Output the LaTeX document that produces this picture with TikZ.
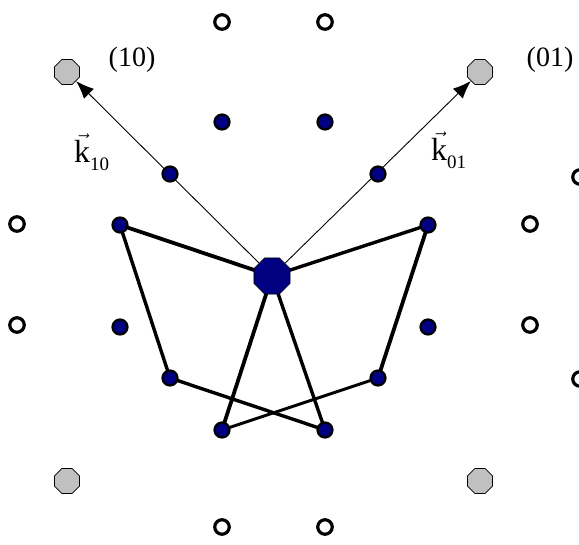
\documentclass[tikz,border=0pt]{standalone}
\usepackage{amsmath}
\usepackage{fontspec}
\setmainfont{Liberation Serif}
\usetikzlibrary{shapes.geometric,arrows.meta,backgrounds}
\definecolor{navy}{RGB}{0,0,128}
\definecolor{lgray}{RGB}{192,192,192}
\tikzset{
  openpt/.style={circle,draw=black,line width=3.2pt,fill=white,minimum size=14.5pt,inner sep=0pt},
  bluept/.style={circle,draw=black,line width=2.2pt,fill=navy,minimum size=15pt,inner sep=0pt},
  graypt/.style={regular polygon,regular polygon sides=8,draw=black,line width=0.8pt,fill=lgray,minimum size=27pt,inner sep=0pt},
  centerpt/.style={regular polygon,regular polygon sides=8,draw=black,line width=0.6pt,fill=navy,minimum size=39pt,inner sep=0pt},
  bond/.style={line width=3.4pt,draw=black},
  kvec/.style={line width=0.9pt,draw=black,-{Latex[length=18pt,width=14pt]}},
  lbl/.style={font=\fontsize{28}{30}\selectfont,inner sep=0pt},
  klbl/.style={font=\fontsize{32}{34}\selectfont,inner sep=0pt,anchor=base west}
}
\newcommand\kvecsub[1]{$\vec{\text{k}}_{\raisebox{-4pt}{\fontsize{19}{19}\selectfont #1}}$}
\begin{document}
\begin{tikzpicture}[x=1pt,y=-1pt]
\useasboundingbox (0,0) rectangle (579,545);
\clip (0,0) rectangle (579,545);
% open points
\node[openpt] (o1) at (222,22) {};
\node[openpt] (o2) at (325,22) {};
\node[openpt] (o3) at (17,224) {};
\node[openpt] (o4) at (530,224) {};
\node[openpt] (o5) at (17,325) {};
\node[openpt] (o6) at (530,325) {};
\node[openpt] (o7) at (222,527) {};
\node[openpt] (o8) at (325,527) {};
\node[openpt] (o9) at (580,177) {};
\node[openpt] (o10) at (580,379) {};
% gray points
\node[graypt] (g10) at (67,72) {};
\node[graypt] (g01) at (480,72) {};
\node[graypt] (g3) at (67,481) {};
\node[graypt] (g4) at (480,481) {};
% blue points
\node[bluept] (b1) at (222,122) {};
\node[bluept] (b2) at (325,122) {};
\node[bluept] (b3) at (170,174) {};
\node[bluept] (b4) at (378,174) {};
\node[bluept] (b5) at (120,225) {};
\node[bluept] (b6) at (428,225) {};
\node[bluept] (b7) at (120,327) {};
\node[bluept] (b8) at (428,327) {};
\node[bluept] (b9) at (170,378) {};
\node[bluept] (b10) at (378,378) {};
\node[bluept] (b11) at (222,430) {};
\node[bluept] (b12) at (325,430) {};
\node[centerpt] (c) at (272,276) {};
% labels
\node[lbl] (l10) at (132,60) {(10)};
\node[lbl] (l01) at (550,60) {(01)};
\node[klbl] (k10) at (74,163) {\kvecsub{10}};
\node[klbl] (k01) at (431,161) {\kvecsub{01}};
\begin{pgfonlayer}{background}
\draw[kvec] (c) -- (g10);
\draw[kvec] (c) -- (g01);
\draw[bond,line width=3.8pt] (c.center) -- (b5.center);
\draw[bond] (c.center) -- (b6.center);
\draw[bond,line width=3.8pt] (c.center) -- (b11.center);
\draw[bond] (c.center) -- (b12.center);
\draw[bond] (b5.center) -- (b9.center);
\draw[bond,line width=3.8pt] (b6.center) -- (b10.center);
\draw[bond] (b9.center) -- (b12.center);
\draw[bond,line width=3pt] (b10.center) -- (b11.center);
\end{pgfonlayer}
\end{tikzpicture}
\end{document}
